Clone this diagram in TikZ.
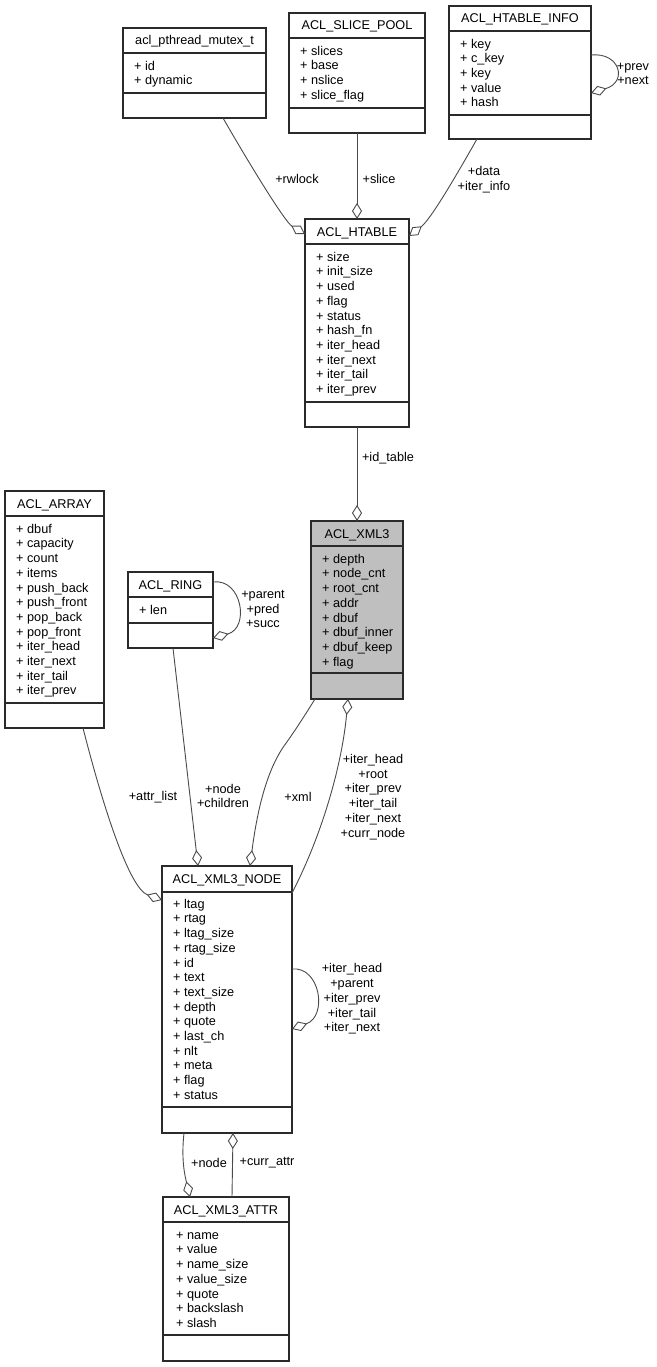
\documentclass[tikz,border=0pt]{standalone}
\usepackage{fontspec}
\setmainfont{Liberation Sans}
\usetikzlibrary{arrows.meta,calc}
\definecolor{boxline}{HTML}{2A2A2A}
\definecolor{edgecol}{HTML}{4A4A4A}
\definecolor{xmlfill}{HTML}{BFBFBF}
\newcommand\fsz{\fontsize{12.7}{14.7}\selectfont}
\newcommand\fl{\rule{0pt}{10pt}}
\begin{document}
\begin{tikzpicture}[x=1pt,y=-1pt,
  cls/.style={draw=boxline, line width=1.3pt, fill=white, inner sep=0pt, outer sep=0pt, anchor=north west},
  sepline/.style={draw=boxline, line width=1.3pt},
  ttl/.style={anchor=base, inner sep=0pt, font=\fsz},
  itm/.style={anchor=north west, inner sep=0pt, align=left, font=\fsz},
  lbl/.style={inner sep=0pt, align=center, font=\fsz},
  agg/.style={draw=edgecol, line width=0.9pt, -{Diamond[length=16pt, width=10pt, fill=white, line width=0.9pt]}}
]
\useasboundingbox[fill=white] (0,0) rectangle (656,1367);

% ---------- classes ----------
% acl_pthread_mutex_t
\node[cls, minimum width=143pt, minimum height=90pt] (pth) at (123,28) {};
\draw[sepline] ($(pth.north west)+(0,25)$) -- ($(pth.north east)+(0,25)$);
\draw[sepline] ($(pth.north west)+(0,65)$) -- ($(pth.north east)+(0,65)$);
\node[ttl] (pthT) at ($(pth.north)+(0,17)$) {acl\_pthread\_mutex\_t};
\node[itm] (pthA) at ($(pth.north west)+(11,32)$) {\fl+ id\\+ dynamic};

% ACL_SLICE_POOL
\node[cls, minimum width=136pt, minimum height=120pt] (sp) at (289,13) {};
\draw[sepline] ($(sp.north west)+(0,25)$) -- ($(sp.north east)+(0,25)$);
\draw[sepline] ($(sp.north west)+(0,95)$) -- ($(sp.north east)+(0,95)$);
\node[ttl] (spT) at ($(sp.north)+(0,17)$) {ACL\_SLICE\_POOL};
\node[itm] (spA) at ($(sp.north west)+(11,32)$) {\fl+ slices\\+ base\\+ nslice\\+ slice\_flag};

% ACL_HTABLE_INFO
\node[cls, minimum width=142pt, minimum height=133pt] (info) at (449,6) {};
\draw[sepline] ($(info.north west)+(0,25)$) -- ($(info.north east)+(0,25)$);
\draw[sepline] ($(info.north west)+(0,109)$) -- ($(info.north east)+(0,109)$);
\node[ttl] (infoT) at ($(info.north)+(0,17)$) {ACL\_HTABLE\_INFO};
\node[itm] (infoA) at ($(info.north west)+(11,32)$) {\fl+ key\\+ c\_key\\+ key\\+ value\\+ hash};

% ACL_HTABLE
\node[cls, minimum width=104pt, minimum height=208pt] (ht) at (305,219) {};
\draw[sepline] ($(ht.north west)+(0,25)$) -- ($(ht.north east)+(0,25)$);
\draw[sepline] ($(ht.north west)+(0,183)$) -- ($(ht.north east)+(0,183)$);
\node[ttl] (htT) at ($(ht.north)+(0,17)$) {ACL\_HTABLE};
\node[itm] (htA) at ($(ht.north west)+(11,32)$) {\fl+ size\\+ init\_size\\+ used\\+ flag\\+ status\\+ hash\_fn\\+ iter\_head\\+ iter\_next\\+ iter\_tail\\+ iter\_prev};

% ACL_ARRAY
\node[cls, minimum width=99pt, minimum height=237pt] (arr) at (5,491) {};
\draw[sepline] ($(arr.north west)+(0,25)$) -- ($(arr.north east)+(0,25)$);
\draw[sepline] ($(arr.north west)+(0,212)$) -- ($(arr.north east)+(0,212)$);
\node[ttl] (arrT) at ($(arr.north)+(0,17)$) {ACL\_ARRAY};
\node[itm] (arrA) at ($(arr.north west)+(11,32)$) {\fl+ dbuf\\+ capacity\\+ count\\+ items\\+ push\_back\\+ push\_front\\+ pop\_back\\+ pop\_front\\+ iter\_head\\+ iter\_next\\+ iter\_tail\\+ iter\_prev};

% ACL_RING
\node[cls, minimum width=85pt, minimum height=76pt] (ring) at (128,572) {};
\draw[sepline] ($(ring.north west)+(0,25)$) -- ($(ring.north east)+(0,25)$);
\draw[sepline] ($(ring.north west)+(0,51)$) -- ($(ring.north east)+(0,51)$);
\node[ttl] (ringT) at ($(ring.north)+(0,17)$) {ACL\_RING};
\node[itm] (ringA) at ($(ring.north west)+(11,32)$) {\fl+ len};

% ACL_XML3
\node[cls, fill=xmlfill, minimum width=92pt, minimum height=178pt] (xml) at (311,521) {};
\draw[sepline] ($(xml.north west)+(0,25)$) -- ($(xml.north east)+(0,25)$);
\draw[sepline] ($(xml.north west)+(0,152)$) -- ($(xml.north east)+(0,152)$);
\node[ttl] (xmlT) at ($(xml.north)+(0,17)$) {ACL\_XML3};
\node[itm] (xmlA) at ($(xml.north west)+(11,32)$) {\fl+ depth\\+ node\_cnt\\+ root\_cnt\\+ addr\\+ dbuf\\+ dbuf\_inner\\+ dbuf\_keep\\+ flag};

% ACL_XML3_NODE
\node[cls, minimum width=130pt, minimum height=267pt] (nd) at (162,866) {};
\draw[sepline] ($(nd.north west)+(0,26)$) -- ($(nd.north east)+(0,26)$);
\draw[sepline] ($(nd.north west)+(0,241)$) -- ($(nd.north east)+(0,241)$);
\node[ttl] (ndT) at ($(nd.north)+(0,17)$) {ACL\_XML3\_NODE};
\node[itm] (ndA) at ($(nd.north west)+(11,32)$) {\fl+ ltag\\+ rtag\\+ ltag\_size\\+ rtag\_size\\+ id\\+ text\\+ text\_size\\+ depth\\+ quote\\+ last\_ch\\+ nlt\\+ meta\\+ flag\\+ status};

% ACL_XML3_ATTR
\node[cls, minimum width=126pt, minimum height=164pt] (at) at (163,1197) {};
\draw[sepline] ($(at.north west)+(0,25)$) -- ($(at.north east)+(0,25)$);
\draw[sepline] ($(at.north west)+(0,138)$) -- ($(at.north east)+(0,138)$);
\node[ttl] (atT) at ($(at.north)+(0,17)$) {ACL\_XML3\_ATTR};
\node[itm] (atA) at ($(at.north west)+(13,32)$) {\fl+ name\\+ value\\+ name\_size\\+ value\_size\\+ quote\\+ backslash\\+ slash};

% ---------- connectors ----------
\draw[agg] ($(pth.south west)+(100,0)$) .. controls (250,165) and (285,222) .. ($(ht.north west)+(0,15)$);
\draw[agg] (sp.south) -- (ht.north);
\draw[agg] ($(info.south west)+(28,0)$) .. controls (452,183) and (430,220) .. ($(ht.north east)+(0,17)$);
\draw[agg] ($(info.north east)+(0,49)$) .. controls (620,52) and (628,82) .. ($(info.north east)+(0,87)$);
\draw[agg] (ht.south) -- (xml.north);
\draw[agg] ($(ring.north east)+(0,10)$) .. controls (242,578) and (250,628) .. ($(ring.north east)+(0,66)$);
\draw[agg] ($(xml.south west)+(4,0)$) .. controls (302,720) and (292,735) .. (284,746) .. controls (266,772) and (257,812) .. ($(nd.north west)+(88,0)$);
\draw[agg] ($(nd.north east)+(0,27)$) .. controls (322,835) and (342,765) .. ($(xml.south west)+(37,0)$);
\draw[agg] ($(ring.south west)+(45,0)$) -- ($(nd.north west)+(36,0)$);
\draw[agg] ($(arr.south west)+(78,0)$) .. controls (100,795) and (128,888) .. ($(nd.north west)+(0,34)$);
\draw[agg] ($(nd.north east)+(0,103)$) .. controls (320,966) and (328,1016) .. ($(nd.north east)+(0,163)$);
\draw[agg] ($(nd.south west)+(22,0)$) .. controls (181,1160) and (185,1176) .. ($(at.north west)+(27,0)$);
\draw[agg] ($(at.north west)+(69,0)$) -- ($(nd.south west)+(71,0)$);

% ---------- labels ----------
\node[lbl] (lrw) at (297,179) {+rwlock};
\node[lbl] (lsl) at (379,179) {+slice};
\node[lbl] (ldt) at (484,180) {+data\\+iter\_info};
\node[lbl] (lpn) at (633,74) {+prev\\+next};
\node[lbl] (lid) at (388,458) {+id\_table};
\node[lbl] (lrg) at (263,609) {+parent\\+pred\\+succ};
\node[lbl] (lal) at (153,797) {+attr\_list};
\node[lbl] (lnc) at (223,796) {+node\\+children};
\node[lbl] (lxm) at (298,797) {+xml};
\node[lbl] (lih) at (373,797) {+iter\_head\\+root\\+iter\_prev\\+iter\_tail\\+iter\_next\\+curr\_node};
\node[lbl] (lnl) at (352,999) {+iter\_head\\+parent\\+iter\_prev\\+iter\_tail\\+iter\_next};
\node[lbl] (lnd) at (209,1163) {+node};
\node[lbl] (lca) at (267,1163) {+curr\_attr};
\end{tikzpicture}
\end{document}
